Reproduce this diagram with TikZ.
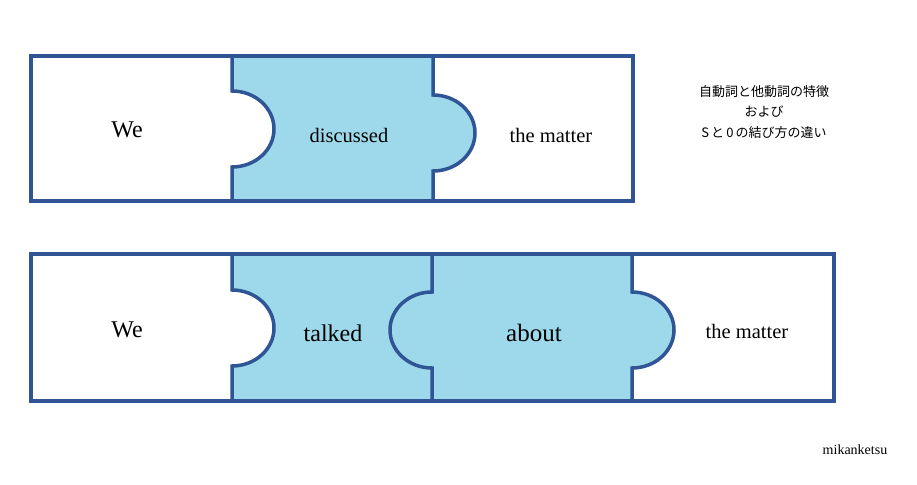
\documentclass[tikz,border=0pt]{standalone}
\usepackage{fontspec}
\setmainfont{Liberation Serif}
\newfontfamily\jpfont{Noto Sans CJK JP}
\definecolor{edgeblue}{HTML}{2F5597}
\definecolor{piecefill}{HTML}{9DD9EA}
\begin{document}
\begin{tikzpicture}[x=1pt,y=-1pt,
  edge/.style={draw=edgeblue,line width=3.5pt,line join=miter},
  tabarc/.style={x radius=42pt,y radius=38pt},
  word/.style={font=\fontsize{#1}{#1}\selectfont,inner sep=0pt,text=black},
  jp/.style={font=\jpfont\fontsize{13}{15}\selectfont,inner sep=0pt,text=black}]
\useasboundingbox (0,0) rectangle (917,484);
% ---- top row fills
\fill[white] (31,56) rectangle (633,201);
\fill[piecefill] (232,56) -- (433,56) -- (433,95)
  arc[start angle=90,end angle=-90,tabarc] -- (433,201) -- (232,201) -- (232,167)
  arc[start angle=-90,end angle=90,tabarc] -- cycle;
% ---- bottom row fills
\fill[white] (31,254) rectangle (834,401);
\fill[piecefill] (232,254) -- (632,254) -- (632,292)
  arc[start angle=90,end angle=-90,tabarc] -- (632,401) -- (232,401) -- (232,366)
  arc[start angle=-90,end angle=90,tabarc] -- cycle;
% ---- outlines top
\draw[edge] (31,56) rectangle (633,201);
\draw[edge] (232,56) -- (232,91) arc[start angle=90,end angle=-90,tabarc] -- (232,201);
\draw[edge] (433,56) -- (433,95) arc[start angle=90,end angle=-90,tabarc] -- (433,201);
% ---- outlines bottom
\draw[edge] (31,254) rectangle (834,401);
\draw[edge] (232,254) -- (232,290) arc[start angle=90,end angle=-90,tabarc] -- (232,401);
\draw[edge] (432,254) -- (432,292) arc[start angle=90,end angle=270,tabarc] -- (432,401);
\draw[edge] (632,254) -- (632,292) arc[start angle=90,end angle=-90,tabarc] -- (632,401);
% ---- words
\node[word=24] (we1) at (127,130) {We};
\node[word=20.5] (disc) at (349,135) {discussed};
\node[word=20.5] (mat1) at (551,135) {the matter};
\node[word=24] (we2) at (127,330) {We};
\node[word=24] (talk) at (333,333) {talked};
\node[word=25] (abt) at (534,333) {about};
\node[word=20.5] (mat2) at (747,331) {the matter};
% ---- notes
\node[jp] (j1) at (764,92) {自動詞と他動詞の特徴};
\node[jp] (j2) at (764,112) {および};
\node[jp] (j3) at (764,133) {S\,と\,0\,の結び方の違い};
\node[word=14] (sig) at (855,450) {mikanketsu};
\end{tikzpicture}
\end{document}
